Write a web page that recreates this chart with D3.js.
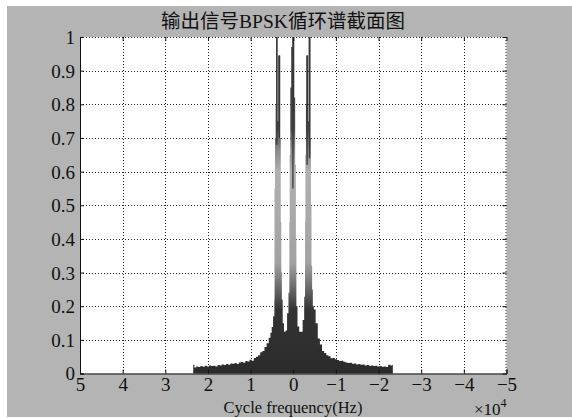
<!DOCTYPE html>
<html>
<head>
<meta charset="utf-8">
<script src="https://cdn.jsdelivr.net/npm/d3@7"></script>
<style>
  body { margin: 0; background: #fff; }
  text { font-family: "Liberation Serif", "Noto Sans CJK SC"; fill: #111; }
</style>
</head>
<body>
<div id="chart"></div>
<script>
var width = 572, height = 418;

// cycle frequency (x 10^4 Hz) and normalised spectrum magnitude
var freq = [2.35, 2.34, 2.3, 2.25, 2.2, 2.15, 2.1, 2.05, 2.0, 1.95, 1.9, 1.85, 1.8, 1.75, 1.7, 1.65,
            1.6, 1.55, 1.5, 1.45, 1.4, 1.35, 1.3, 1.25, 1.2, 1.15, 1.1, 1.05, 1.0, 0.95, 0.9, 0.85,
            0.8, 0.75, 0.7, 0.65, 0.6, 0.55, 0.52, 0.49, 0.455, 0.43,
            0.445, 0.435, 0.42, 0.405, 0.397, 0.372, 0.368, 0.338, 0.31, 0.30, 0.285, 0.275, 0.26, 0.235,
            0.20, 0.16, 0.13, 0.095,
            0.088, 0.078, 0.06, 0.035, 0.01, -0.015, -0.035, -0.055, -0.068, -0.079,
            -0.12, -0.16, -0.2, -0.24, -0.273,
            -0.28, -0.29, -0.305, -0.313, -0.343, -0.355, -0.367, -0.397, -0.41, -0.42, -0.435, -0.45, -0.468,
            -0.5, -0.55, -0.6, -0.65, -0.7, -0.75, -0.8, -0.85, -0.9, -0.95, -1.0, -1.05, -1.1, -1.15,
            -1.2, -1.25, -1.3, -1.35, -1.4, -1.45, -1.5, -1.55, -1.6, -1.65, -1.7, -1.75, -1.8, -1.85,
            -1.9, -1.95, -2.0, -2.05, -2.1, -2.15, -2.2, -2.25, -2.3, -2.33, -2.34];
var magnitude = [0, 0.026, 0.018, 0.021, 0.019, 0.022, 0.020, 0.023, 0.021, 0.024, 0.022, 0.023, 0.021, 0.025, 0.024, 0.027,
            0.025, 0.028, 0.026, 0.030, 0.029, 0.031, 0.028, 0.033, 0.034, 0.032, 0.037, 0.036, 0.041, 0.038, 0.046, 0.050,
            0.054, 0.063, 0.067, 0.079, 0.090, 0.106, 0.121, 0.138, 0.170, 0.22,
            0.30, 0.55, 0.70, 0.80, 1.0, 1.0, 0.75, 0.945, 0.945, 0.70, 0.45, 0.30, 0.22, 0.149,
            0.124, 0.128, 0.179, 0.24,
            0.45, 0.65, 0.85, 0.97, 1.0, 1.0, 0.82, 0.62, 0.40, 0.20,
            0.14, 0.124, 0.124, 0.159, 0.228,
            0.45, 0.65, 0.80, 0.945, 0.945, 0.75, 1.0, 1.0, 0.70, 0.50, 0.32, 0.25, 0.20,
            0.19, 0.149, 0.104, 0.086, 0.067, 0.061, 0.054, 0.051, 0.045, 0.046, 0.042, 0.040, 0.037, 0.038,
            0.035, 0.033, 0.031, 0.032, 0.029, 0.030, 0.027, 0.028, 0.026, 0.027, 0.024, 0.025, 0.023, 0.024,
            0.022, 0.023, 0.021, 0.022, 0.020, 0.021, 0.019, 0.026, 0.024, 0.025, 0];

// dark ridge lines on the three peaks: frequency, top, bottom
var ridgeFreq = [0.386, 0.325, 0.0, 0.008, -0.325, -0.382];
var ridgeTop = [1.0, 0.945, 1.0, 0.97, 0.945, 1.0];
var ridgeBottom = [0.68, 0.70, 0.78, 0.55, 0.62, 0.64];

var xTicks = [5, 4, 3, 2, 1, 0, -1, -2, -3, -4, -5];
var yTicks = [0, 0.1, 0.2, 0.3, 0.4, 0.5, 0.6, 0.7, 0.8, 0.9, 1];

var data = freq.map(function(f, i) { return [f, magnitude[i]]; });

var svg = d3.select('#chart').append('svg')
  .attr('width', width)
  .attr('height', height);

// figure background
svg.append('rect')
  .attr('x', 7).attr('y', 6)
  .attr('width', width - 7).attr('height', 411)
  .attr('fill', '#b4b4b4');

var x = d3.scaleLinear().domain([5, -5]).range([80, 506.5]);
var y = d3.scaleLinear().domain([0, 1]).range([373.5, 37]);

svg.append('rect')
  .attr('x', x(5)).attr('y', y(1))
  .attr('width', x(-5) - x(5)).attr('height', y(0) - y(1))
  .attr('fill', '#fff');

// grid
var grid = svg.append('g')
  .attr('stroke', '#222')
  .attr('stroke-width', 1)
  .attr('stroke-dasharray', '1,2');
grid.selectAll('.gx').data(xTicks.slice(1, -1)).enter().append('line')
  .attr('x1', function(d) { return Math.round(x(d)) + 0.5; })
  .attr('x2', function(d) { return Math.round(x(d)) + 0.5; })
  .attr('y1', y(1)).attr('y2', y(0));
grid.selectAll('.gy').data(yTicks.slice(1, -1)).enter().append('line')
  .attr('y1', function(d) { return Math.round(y(d)) + 0.5; })
  .attr('y2', function(d) { return Math.round(y(d)) + 0.5; })
  .attr('x1', x(5)).attr('x2', x(-5));
// dotted border on top and right
grid.append('line').attr('x1', x(5)).attr('x2', x(-5)).attr('y1', y(1) + 0.5).attr('y2', y(1) + 0.5);
grid.append('line').attr('x1', x(-5) - 0.5).attr('x2', x(-5) - 0.5).attr('y1', y(1)).attr('y2', y(0));

// gradient for the mesh shading
var grad = svg.append('defs').append('linearGradient')
  .attr('id', 'shade')
  .attr('gradientUnits', 'userSpaceOnUse')
  .attr('x1', 0).attr('x2', 0)
  .attr('y1', y(0)).attr('y2', y(1));
[[0, '#2b2b2b'], [0.19, '#333333'], [0.26, '#6e6e6e'], [0.33, '#a2a2a2'],
 [0.6, '#b0b0b0'], [0.67, '#858585'], [0.73, '#484848'], [1, '#3a3a3a']]
  .forEach(function(s) {
    grad.append('stop').attr('offset', s[0]).attr('stop-color', s[1]);
  });

var area = d3.area()
  .x(function(d) { return x(d[0]); })
  .y0(y(0))
  .y1(function(d) { return y(d[1]); })
  .curve(d3.curveStep);

svg.append('path')
  .datum(data)
  .attr('d', area)
  .attr('fill', 'url(#shade)');

svg.selectAll('.ridge')
  .data(ridgeFreq)
  .enter().append('line')
  .attr('x1', function(d) { return x(d); })
  .attr('x2', function(d) { return x(d); })
  .attr('y1', function(d, i) { return y(ridgeTop[i]); })
  .attr('y2', function(d, i) { return y(ridgeBottom[i]); })
  .attr('stroke', '#383838')
  .attr('stroke-width', 1.3);

// axes with inward ticks
var axB = svg.append('g').attr('transform', 'translate(0,' + y(0) + ')')
  .call(d3.axisBottom(x).tickValues(xTicks).tickSize(-4).tickPadding(4)
    .tickFormat(d3.format('d')));
var axL = svg.append('g').attr('transform', 'translate(' + x(5) + ',0)')
  .call(d3.axisLeft(y).tickValues(yTicks).tickSize(-4).tickPadding(5)
    .tickFormat(function(d) { return d === 0 || d === 1 ? d : d3.format('.1f')(d); }));
var axT = svg.append('g').attr('transform', 'translate(0,' + y(1) + ')')
  .call(d3.axisTop(x).tickValues(xTicks).tickSize(-4).tickFormat(''));
var axR = svg.append('g').attr('transform', 'translate(' + x(-5) + ',0)')
  .call(d3.axisRight(y).tickValues(yTicks).tickSize(-4).tickFormat(''));

[axB, axL, axT, axR].forEach(function(a) {
  a.attr('font-family', '"Liberation Serif"').attr('font-size', 19);
  a.selectAll('.tick line').attr('stroke', '#111');
  a.selectAll('text').attr('fill', '#111');
});
axT.select('.domain').attr('stroke', 'none');
axR.select('.domain').attr('stroke', 'none');
axB.select('.domain').attr('stroke', '#111');
axL.select('.domain').attr('stroke', '#111');
axL.selectAll('text').attr('dy', '0.34em');

// title and labels
svg.append('text')
  .attr('x', 283).attr('y', 28)
  .attr('text-anchor', 'middle')
  .style('font-size', '19.5px')
  .text('输出信号BPSK循环谱截面图');

svg.append('text')
  .attr('x', 293).attr('y', 413)
  .attr('text-anchor', 'middle')
  .style('font-size', '16.5px')
  .text('Cycle frequency(Hz)');

var mult = svg.append('text')
  .attr('x', 474).attr('y', 415)
  .style('font-size', '17px');
mult.append('tspan').text('\u00d710');
mult.append('tspan').attr('dy', -8).style('font-size', '12px').text('4');
</script>
</body>
</html>
